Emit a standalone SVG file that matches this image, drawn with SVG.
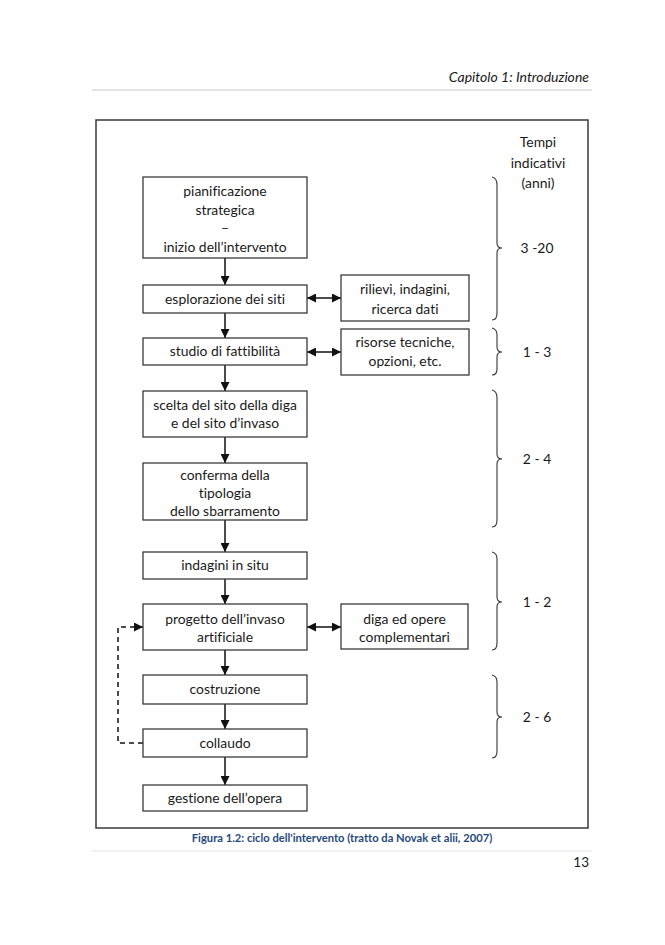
<svg xmlns="http://www.w3.org/2000/svg" width="665" height="945" viewBox="0 0 665 945">
<defs>
<style>
text{font-family:Lato,"Open Sans","Liberation Sans",sans-serif;fill:#1a1a1a;font-size:13.9px;text-anchor:middle;font-variant-ligatures:none;font-feature-settings:"liga" 0}
.box{fill:#fff;stroke:#3a3a3a;stroke-width:1.3}
.conn{stroke:#111;stroke-width:1.5;fill:none}
.dash{stroke:#111;stroke-width:1.5;fill:none;stroke-dasharray:5,4}
.brace{stroke:#333;stroke-width:1.1;fill:none}
.rule{stroke:#c8c8c8;stroke-width:1}
</style>
<marker id="ah" viewBox="0 0 10 10" refX="10" refY="5" markerWidth="6" markerHeight="6" markerUnits="strokeWidth" orient="auto-start-reverse">
<path d="M0,0 L10,5 L0,10 z" fill="#111"/>
</marker>
</defs>
<rect width="665" height="945" fill="#fff"/>
<text x="589" y="82" style="font-style:italic;font-size:14px;text-anchor:end">Capitolo 1: Introduzione</text>
<line class="rule" x1="92" y1="90" x2="592" y2="90"/>
<rect x="96" y="120" width="492" height="708" fill="none" stroke="#3a3a3a" stroke-width="1.5"/>
<g id="connectors">
<line class="conn" x1="225" y1="258" x2="225" y2="285" marker-end="url(#ah)"/>
<line class="conn" x1="225" y1="313" x2="225" y2="338" marker-end="url(#ah)"/>
<line class="conn" x1="225" y1="365" x2="225" y2="391" marker-end="url(#ah)"/>
<line class="conn" x1="225" y1="437" x2="225" y2="463" marker-end="url(#ah)"/>
<line class="conn" x1="225" y1="520" x2="225" y2="552" marker-end="url(#ah)"/>
<line class="conn" x1="225" y1="579" x2="225" y2="604" marker-end="url(#ah)"/>
<line class="conn" x1="225" y1="650" x2="225" y2="675" marker-end="url(#ah)"/>
<line class="conn" x1="225" y1="704" x2="225" y2="729" marker-end="url(#ah)"/>
<line class="conn" x1="225" y1="757" x2="225" y2="785" marker-end="url(#ah)"/>
<line class="conn" x1="307" y1="298" x2="341" y2="298" marker-start="url(#ah)" marker-end="url(#ah)"/>
<line class="conn" x1="307" y1="352" x2="341" y2="352" marker-start="url(#ah)" marker-end="url(#ah)"/>
<line class="conn" x1="307" y1="627" x2="341" y2="627" marker-start="url(#ah)" marker-end="url(#ah)"/>
<path class="dash" d="M143,743 H118 V627 H143" marker-end="url(#ah)"/>
</g>
<g id="n1"><rect class="box" x="143" y="177" width="164" height="81"/>
<text x="225" y="196">pianificazione</text><text x="225" y="214.5">strategica</text><text x="225" y="233">–</text><text x="225" y="251.5">inizio dell’intervento</text></g>
<g id="n2"><rect class="box" x="143" y="285" width="164" height="28"/><text x="225" y="303.5">esplorazione dei siti</text></g>
<g id="n3"><rect class="box" x="341" y="275" width="128" height="46"/><text x="405" y="293.5">rilievi, indagini,</text><text x="405" y="314">ricerca dati</text></g>
<g id="n4"><rect class="box" x="143" y="338" width="164" height="27"/><text x="225" y="356">studio di fattibilità</text></g>
<g id="n5"><rect class="box" x="341" y="329" width="128" height="46"/><text x="405" y="346.5">risorse tecniche,</text><text x="405" y="365.5">opzioni, etc.</text></g>
<g id="n6"><rect class="box" x="143" y="391" width="164" height="46"/><text x="225" y="410">scelta del sito della diga</text><text x="225" y="428">e del sito d’invaso</text></g>
<g id="n7"><rect class="box" x="143" y="463" width="164" height="57"/><text x="225" y="480">conferma della</text><text x="225" y="498">tipologia</text><text x="225" y="516">dello sbarramento</text></g>
<g id="n8"><rect class="box" x="143" y="552" width="164" height="27"/><text x="225" y="570">indagini in situ</text></g>
<g id="n9"><rect class="box" x="143" y="604" width="164" height="46"/><text x="225" y="623.5">progetto dell’invaso</text><text x="225" y="641.5">artificiale</text></g>
<g id="n10"><rect class="box" x="341" y="604" width="127" height="45"/><text x="404.5" y="623.5">diga ed opere</text><text x="404.5" y="641.5">complementari</text></g>
<g id="n11"><rect class="box" x="143" y="675" width="164" height="29"/><text x="225" y="694">costruzione</text></g>
<g id="n12"><rect class="box" x="143" y="729" width="164" height="28"/><text x="225" y="747.5">collaudo</text></g>
<g id="n13"><rect class="box" x="143" y="785" width="164" height="26"/><text x="225" y="802.5">gestione dell’opera</text></g>
<g id="tempi">
<text x="538" y="147">Tempi</text><text x="538" y="168">indicativi</text><text x="538" y="188">(anni)</text>
<path class="brace" d="M492,177 Q497,178 497,185 L497,243 Q497,248 502,248 Q497,248 497,253 L497,313 Q497,320 492,320"/>
<text x="537" y="253">3 -20</text>
<path class="brace" d="M492,328 Q497,329 497,335 L497,347 Q497,352 502,352 Q497,352 497,357 L497,369 Q497,375 492,375"/>
<text x="537" y="356.5">1 - 3</text>
<path class="brace" d="M492,390 Q497,391 497,398 L497,454 Q497,459 502,459 Q497,459 497,464 L497,520 Q497,527 492,527"/>
<text x="537" y="463.5">2 - 4</text>
<path class="brace" d="M492,552 Q497,553 497,559 L497,597 Q497,602 502,602 Q497,602 497,607 L497,643 Q497,650 492,650"/>
<text x="537" y="606.5">1 - 2</text>
<path class="brace" d="M492,675 Q497,676 497,682 L497,712 Q497,717 502,717 Q497,717 497,722 L497,751 Q497,758 492,758"/>
<text x="537" y="721.5">2 - 6</text>
</g>
<text x="342" y="842" style="font-weight:bold;font-size:11.2px;fill:#1f497d">Figura 1.2: ciclo dell'intervento (tratto da Novak et alii, 2007)</text>
<line class="rule" x1="92" y1="851" x2="592" y2="851" style="stroke:#e4e4e4"/>
<text x="589" y="867" style="font-size:13.5px;text-anchor:end">13</text>
</svg>
